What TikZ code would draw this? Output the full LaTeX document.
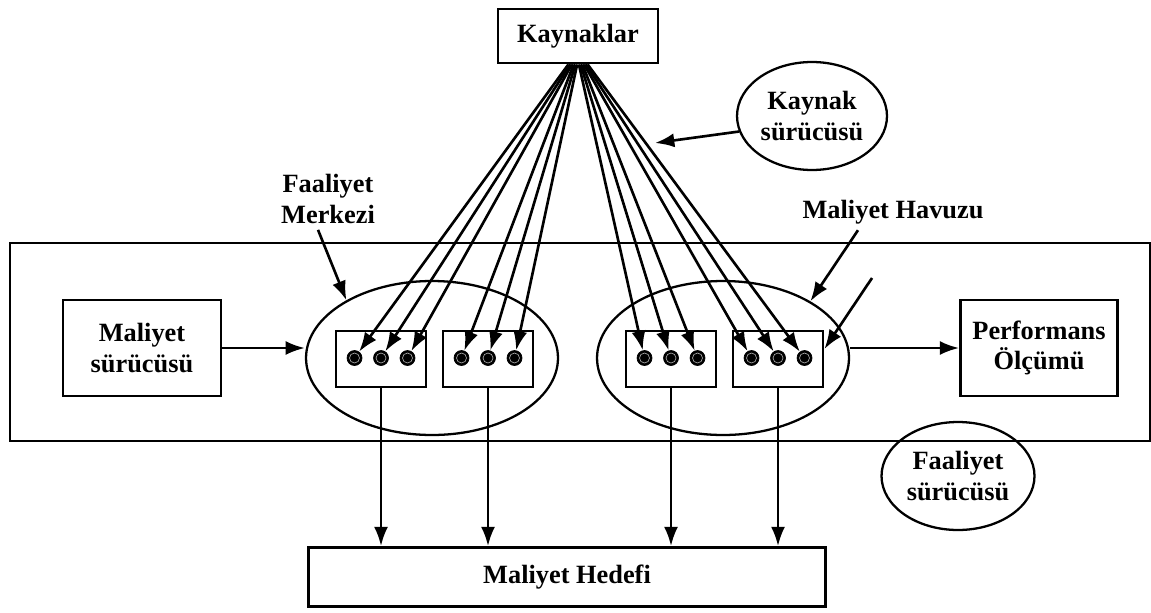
\documentclass[tikz,border=0pt]{standalone}
\usepackage{fontspec}
\setmainfont{Liberation Serif}
\usetikzlibrary{arrows.meta, shapes.geometric}

\begin{document}
\begin{tikzpicture}[
x=0.02cm, y=-0.02cm,
font=\fontsize{15}{17.5}\selectfont\bfseries,
box/.style={draw,
rectangle,
line width=1.6pt,
align=center,
inner sep=0pt},
oval/.style={draw,
ellipse,
line width=1.3pt,
align=center,
inner sep=0pt},
pool/.style={draw, rectangle, line width=1.6pt, minimum width=1.8cm, minimum height=1.12cm},
dot/.style={circle, fill=black, draw=black, minimum size=0.3cm, inner sep=0pt,
path picture={\draw[gray!60, line width=0.35pt] (path picture bounding box.center) circle (0.1cm);}},
arrow/.style={-{Latex[length=11pt, width=8pt]}, line width=1.5pt}
]

\useasboundingbox (0,0) rectangle (1151,612);

% activity area
\node[box, line width=1.4pt, minimum width=22.8cm, minimum height=3.96cm] (frame) at (580,342) {};

\node[box, minimum width=3.2cm, minimum height=1.08cm] (k) at (578,36) {Kaynaklar};
\node[oval, minimum width=3.0cm, minimum height=2.16cm] (ks) at (812,116) {Kaynak\\sürücüsü};
\node[align=center] (fm) at (328,199) {Faaliyet\\Merkezi};
\node (mhv) at (893,212) {Maliyet Havuzu};

\node[box, minimum width=3.16cm, minimum height=1.92cm] (ms) at (142,348) {Maliyet\\sürücüsü};
\node[box, minimum width=3.14cm, minimum height=1.92cm] (pm) at (1039,348) {Performans\\Ölçümü};

\node[oval, minimum width=5.04cm, minimum height=3.08cm] (le) at (432,358) {};
\node[oval, minimum width=5.04cm, minimum height=3.08cm] (re) at (723,358) {};

\node[pool] (b1) at (381,359) {};
\node[pool] (b2) at (488,359) {};
\node[pool] (b3) at (671,359) {};
\node[pool] (b4) at (778,359) {};

\foreach \b in {1,...,4}
  \foreach \j/\dx in {1/-0.53,2/0,3/0.53}
    \node[dot] (d\b\j) at ([xshift=\dx cm, yshift=0.02cm]b\b.center) {};

\node[oval, minimum width=3.06cm, minimum height=2.16cm] (fs) at (958,476) {Faaliyet\\sürücüsü};
\node[box, minimum width=10.34cm, minimum height=1.18cm] (mh) at (567,577) {Maliyet Hedefi};

\coordinate (ksTip) at (655,143);
\coordinate (mhvTail) at (872,278);

% resources to activities
\foreach \b in {1,...,4}
  \foreach \j in {1,2,3} {
    \pgfmathsetmacro\sx{(3*\b+\j-9.5)*0.035}
    \draw[arrow] ([xshift=\sx cm]k.south) -- (d\b\j);
  }

\foreach \b in {1,...,4}
  \draw[arrow] (b\b.south) -- (b\b.south |- mh.north);

\draw[arrow] (ms.east) -- (ms.east -| le.west);
\draw[arrow] (pm.west -| re.east) -- (pm.west);
\draw[arrow] (ks.192) -- (ksTip);
\draw[arrow] ([xshift=-0.2cm]fm.south) -- (le.146);
\draw[arrow] ([xshift=-0.7cm]mhv.south) -- (re.33);
\draw[arrow] (mhvTail) -- ([yshift=0.2cm]b4.east);

\end{tikzpicture}
\end{document}
